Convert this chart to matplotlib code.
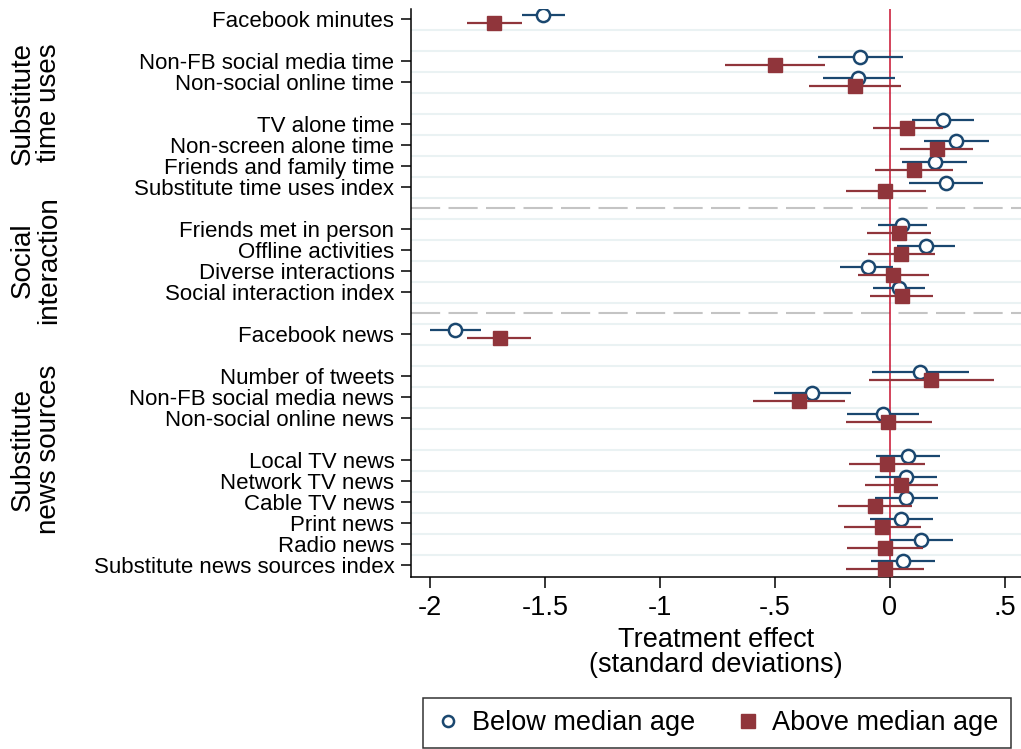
import matplotlib
matplotlib.use("Agg")
import matplotlib.pyplot as plt
import matplotlib.transforms as mtransforms
from matplotlib.lines import Line2D
import numpy as np

plt.rcParams['font.family'] = ['Liberation Sans', 'DejaVu Sans']

# groups -> blocks -> outcome labels
group_names = ["Substitute\ntime uses", "Social\ninteraction", "Substitute\nnews sources"]
group_blocks = [
    [["Facebook minutes"],
     ["Non-FB social media time", "Non-social online time"],
     ["TV alone time", "Non-screen alone time", "Friends and family time",
      "Substitute time uses index"]],
    [["Friends met in person", "Offline activities", "Diverse interactions",
      "Social interaction index"]],
    [["Facebook news"],
     ["Number of tweets", "Non-FB social media news", "Non-social online news"],
     ["Local TV news", "Network TV news", "Cable TV news", "Print news",
      "Radio news", "Substitute news sources index"]],
]

# below median age: estimate, lower, upper
below_est = [-1.51, -0.131, -0.138, 0.230, 0.287, 0.194, 0.244,
             0.053, 0.158, -0.097, 0.041,
             -1.89, 0.132, -0.338, -0.030, 0.079, 0.068, 0.072, 0.050, 0.137, 0.055]
below_lo = [-1.60, -0.314, -0.293, 0.096, 0.146, 0.053, 0.082,
            -0.052, 0.032, -0.216, -0.074,
            -2.00, -0.078, -0.506, -0.185, -0.061, -0.067, -0.064, -0.085, 0.001, -0.083]
below_hi = [-1.415, 0.057, 0.022, 0.367, 0.430, 0.335, 0.406,
            0.161, 0.285, 0.013, 0.153,
            -1.778, 0.342, -0.171, 0.127, 0.218, 0.204, 0.211, 0.187, 0.275, 0.196]

# above median age
above_est = [-1.72, -0.501, -0.150, 0.075, 0.203, 0.105, -0.020,
             0.041, 0.050, 0.013, 0.053,
             -1.698, 0.180, -0.395, -0.007, -0.011, 0.050, -0.063, -0.033, -0.020, -0.021]
above_lo = [-1.84, -0.718, -0.35, -0.073, 0.043, -0.067, -0.193,
            -0.099, -0.095, -0.137, -0.085,
            -1.838, -0.090, -0.594, -0.193, -0.180, -0.110, -0.224, -0.198, -0.185, -0.190]
above_hi = [-1.60, -0.283, 0.048, 0.229, 0.361, 0.275, 0.157,
            0.177, 0.194, 0.168, 0.187,
            -1.56, 0.452, -0.195, 0.184, 0.154, 0.211, 0.096, 0.136, 0.143, 0.150]

xticks = [-2, -1.5, -1, -0.5, 0, 0.5]
xtick_labels = ["-2", "-1.5", "-1", "-.5", "0", ".5"]

blue = "#1a476f"
red = "#90353b"

# lay out rows: one blank row between blocks, a dashed row between groups
labels, ypos, seps, group_mid = [], [], [], []
r = 1
for gi, blocks in enumerate(group_blocks):
    start = r
    for bi, block in enumerate(blocks):
        if bi > 0:
            r += 1
        for lab in block:
            labels.append(lab)
            ypos.append(r)
            r += 1
    group_mid.append((start + r - 1) / 2)
    if gi < len(group_blocks) - 1:
        seps.append(r)
        r += 1
ypos = np.array(ypos, dtype=float)
last_row = r - 1

fig = plt.figure(figsize=(10.21, 7.49), dpi=100)
ax = fig.add_axes([411 / 1021, 172 / 749, 610 / 1021, 568.5 / 749])

for g in np.arange(1.5, last_row, 1.0):
    ax.axhline(g, color="#eaf2f3", lw=1.5, zorder=0)
for s in seps:
    ax.axhline(s, color="#c4c4c4", lw=1.5, dashes=(14, 4), zorder=0)
ax.axvline(0, color="#c8102e", lw=1.1, zorder=1)

off = 0.18
ax.hlines(ypos - off, below_lo, below_hi, color=blue, lw=1.6, zorder=2)
ax.plot(below_est, ypos - off, 'o', ms=9.5, mfc='white', mec=blue, mew=1.8, zorder=3)
ax.hlines(ypos + off, above_lo, above_hi, color=red, lw=1.6, zorder=4)
ax.plot(above_est, ypos + off, 's', ms=10.5, mfc=red, mec=red, zorder=5)

ax.set_xlim(-2.083, 0.570)
ax.set_ylim(last_row + 0.57, 0.5)
ax.set_yticks(ypos)
ax.set_yticklabels(labels, fontsize=16)
ax.set_xticks(xticks)
ax.set_xticklabels(xtick_labels, fontsize=19.5)
ax.tick_params(axis='y', length=7, width=1.1, pad=5)
ax.tick_params(axis='x', length=8, width=1.1, pad=5)
for side in ["top", "right"]:
    ax.spines[side].set_visible(False)
for side in ["left", "bottom"]:
    ax.spines[side].set_linewidth(1.1)

ax.set_xlabel("Treatment effect\n(standard deviations)", fontsize=19.5,
              linespacing=0.95, labelpad=4)

trans = mtransforms.blended_transform_factory(fig.transFigure, ax.transData)
for name, mid in zip(group_names, group_mid):
    ax.text(36 / 1021, mid, name, transform=trans, rotation=90, ha="center",
            va="center", fontsize=20, linespacing=1.05, multialignment="center")

handles = [
    Line2D([], [], ls='none', marker='o', ms=8, mfc='white', mec=blue, mew=1.8),
    Line2D([], [], ls='none', marker='s', ms=10, mfc=red, mec=red),
]
leg = fig.legend(handles, ["Below median age", "Above median age"], ncol=2,
                 loc="center", bbox_to_anchor=(717 / 1021, 26 / 749),
                 fontsize=19.5, frameon=True, fancybox=False, edgecolor="black",
                 handlelength=0.9, handletextpad=0.45, columnspacing=1.5,
                 borderpad=0.45)
leg.get_frame().set_linewidth(1.1)

fig.savefig("out.png", dpi=100)
